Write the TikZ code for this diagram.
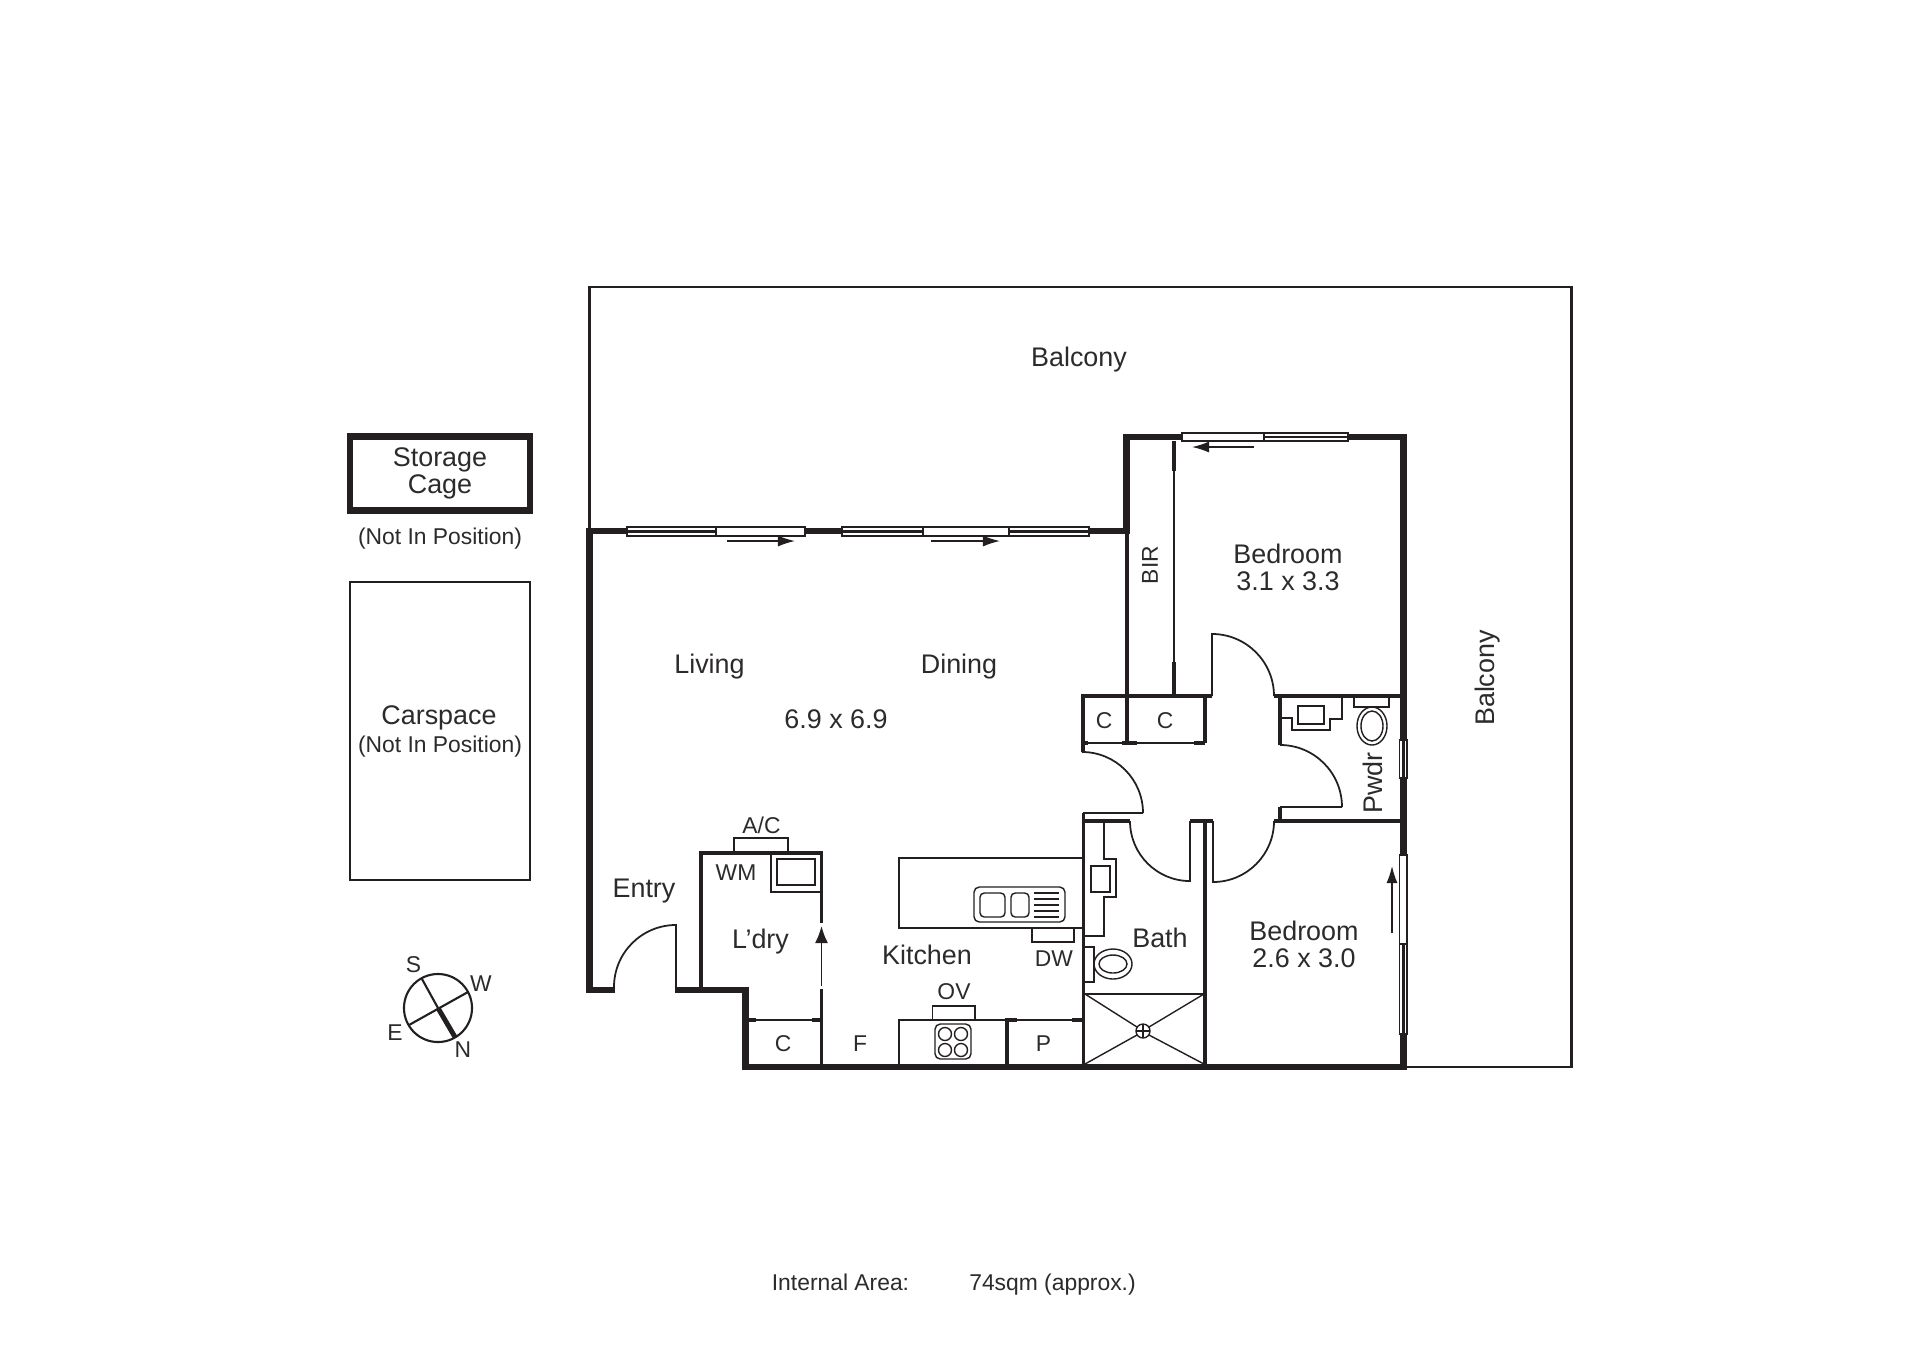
\documentclass[tikz,border=0pt]{standalone}
\usepackage{fontspec}
\setmainfont{Liberation Sans}
\usetikzlibrary{arrows.meta}
\definecolor{wallblack}{RGB}{35,31,32}
\definecolor{textblack}{RGB}{45,42,43}
\tikzset{
    wall/.style={draw=wallblack,line width=1.85pt},
    midwall/.style={draw=wallblack,line width=1pt},
    leaf/.style={draw=wallblack,line width=0.5pt},
    fitting/.style={draw=wallblack,line width=0.4pt},
    glass/.style={draw=wallblack,fill=white,line width=0.4pt},
    slide/.style={draw=wallblack,line width=0.4pt,-{Latex[length=0.17cm,width=0.11cm]}},
    bigtxt/.style={text=textblack,inner sep=0pt,font=\fontsize{7.65pt}{8pt}\selectfont},
    smalltxt/.style={text=textblack,inner sep=0pt,font=\fontsize{6.5pt}{7pt}\selectfont}
}
\begin{document}
\begin{tikzpicture}[x=0.01cm,y=-0.01cm]
  \useasboundingbox (0,0) rectangle (1920,1356);
  %balcony outline
      \draw[fitting,line width=0.6pt] (589.5,531) -- (589.5,287) -- (1571.5,287) -- (1571.5,1067) -- (1407,1067);
  %outer walls
      \draw[wall] (615,990) -- (589.5,990) -- (589.5,531) -- (1127,531);
      \draw[wall] (1126.5,534) -- (1126.5,437) -- (1403.5,437) -- (1403.5,1067) -- (745.5,1067) -- (745.5,990) -- (675,990);
  %inner walls
      \draw[midwall] (701,990) -- (701,853) -- (821.5,853) -- (821.5,923);
      \draw[midwall] (821.5,989) -- (821.5,1067);
      \draw[midwall] (1007,1067) -- (1007,1020) -- (1017,1020);
      \draw[midwall] (1083.5,1067) -- (1083.5,813);
      \draw[midwall] (1083.5,821) -- (1130,821);
      \draw[midwall] (1190,821) -- (1213,821);
      \draw[midwall] (1205,821) -- (1205,1067);
      \draw[midwall] (1274,821) -- (1403,821);
      \draw[midwall] (1280,821) -- (1280,807);
      \draw[midwall] (1083,752) -- (1083,696) -- (1212,696);
      \draw[midwall] (1274,696) -- (1403,696);
      \draw[midwall] (1280,696) -- (1280,745);
      \draw[midwall] (1127,534) -- (1127,743);
      \draw[midwall] (1205,696) -- (1205,743);
      \draw[midwall] (1174,441) -- (1174,471);
      \draw[midwall] (1174,662) -- (1174,696);
  %cupboard stubs
      \draw[midwall] (749,1020) -- (756,1020);
      \draw[midwall] (812,1020) -- (820,1020);
      \draw[midwall] (1072,1020) -- (1082,1020);
      \draw[midwall] (1083,743) -- (1088,743);
      \draw[midwall] (1122,743) -- (1137,743);
      \draw[midwall] (1194,743) -- (1205,743);
  %thin partitions
      \draw[fitting] (1174,471) -- (1174,662);
      \draw[fitting] (1083,743) -- (1205,743);
      \draw[fitting] (749,1020) -- (820,1020);
      \draw[fitting] (1007,1020) -- (1082,1020);
  %doors
      \draw[leaf] (614,990) -- (614,987) arc[start angle=180,end angle=90,radius=0.62cm] -- (676,990);
      \draw[leaf] (1143,813) arc[start angle=0,end angle=90,radius=0.61cm];
      \draw[leaf] (1083,813) -- (1143,813);
      \draw[leaf] (1130,821) arc[start angle=180,end angle=270,radius=0.60cm] -- (1190,821);
      \draw[leaf] (1213,821) -- (1213,882) arc[start angle=270,end angle=360,radius=0.61cm];
      \draw[leaf] (1342,807) arc[start angle=0,end angle=90,radius=0.62cm];
      \draw[leaf] (1280,807) -- (1342,807);
      \draw[leaf] (1274,696) arc[start angle=0,end angle=90,radius=0.62cm] -- (1212,696);
  %sliding door laundry
      \draw[slide,line width=0.5pt,-{Latex[length=0.17cm,width=0.13cm]}] (821.5,986) -- (821.5,926);
  %windows
      \foreach \xa/\xb in {627/716,842/923,1009/1089}
        {\draw[glass] (\xa,527) rectangle (\xb,536);
         \draw[fitting,line width=0.7pt] (\xa,531.5) -- (\xb,531.5);}
      \draw[glass] (716,527) rectangle (805,536);
      \draw[glass] (923,527) rectangle (1009,536);
      \draw[glass] (1182,433) rectangle (1264,441);
      \draw[glass] (1264,433) rectangle (1348,441);
      \draw[fitting,line width=0.7pt] (1264,437) -- (1348,437);
      \draw[glass] (1399.5,740) rectangle (1407,778);
      \draw[fitting,line width=0.7pt] (1403.5,740) -- (1403.5,778);
      \draw[glass] (1399.5,855) rectangle (1407,944);
      \draw[glass] (1399.5,944) rectangle (1407,1034);
      \draw[fitting,line width=0.7pt] (1403.5,944) -- (1403.5,1034);
      \draw[slide] (727,541) -- (795,541);
      \draw[slide] (931,541) -- (1000,541);
      \draw[slide] (1254,447) -- (1192,447);
      \draw[slide] (1392,933) -- (1392,866);
  %laundry fittings
      \draw[fitting] (734,851) -- (734,838) -- (788,838) -- (788,851);
      \draw[fitting] (771,855) -- (771,892) -- (820,892);
      \draw[fitting] (777,859) rectangle (815,885);
  %kitchen
      \draw[fitting] (1082,858) -- (899,858) -- (899,928) -- (1082,928);
      \draw[fitting,rounded corners=1.5pt] (974,887) rectangle (1065,922);
      \draw[fitting,rounded corners=1.2pt] (980,893) rectangle (1005,917);
      \draw[fitting,rounded corners=1.2pt] (1011,893) rectangle (1029,917);
      \foreach \yl in {893,899,905,911,917}
        \draw[fitting] (1034,\yl) -- (1059,\yl);
      \draw[fitting] (1032,928) -- (1032,942) -- (1074,942) -- (1074,928);
      \draw[fitting] (1007,1020) -- (899,1020) -- (899,1064);
      \draw[fitting] (932.5,1020) -- (932.5,1006) -- (975,1006) -- (975,1020);
      \draw[fitting,rounded corners=1.5pt] (935,1024) rectangle (971,1059);
      \foreach \xh in {945,961}
        \foreach \yh in {1034,1050}
          \draw[fitting] (\xh,\yh) circle[radius=0.065cm];
  %bath fittings
      \draw[fitting] (1104,821) -- (1104,859) -- (1116,859) -- (1116,897) -- (1104,897) -- (1104,936) -- (1085,936);
      \draw[fitting] (1091,866) rectangle (1110,892);
      \draw[fitting] (1085,947) -- (1094,947) -- (1094,982) -- (1085,982);
      \draw[fitting] (1113,964) ellipse[x radius=0.19cm,y radius=0.15cm];
      \draw[fitting] (1113,964) ellipse[x radius=0.14cm,y radius=0.09cm];
      \draw[fitting] (1085,994) -- (1204,994);
      \draw[fitting] (1085,994) -- (1137,1027);
      \draw[fitting] (1204,994) -- (1149,1027);
      \draw[fitting] (1085,1064) -- (1137,1035);
      \draw[fitting] (1204,1064) -- (1149,1035);
      \draw[fitting] (1143,1031) circle[radius=0.07cm];
      \draw[fitting] (1136,1031) -- (1150,1031) (1143,1024) -- (1143,1038);
  %powder fittings
      \draw[fitting] (1281,718) -- (1292,718) -- (1292,730) -- (1330,730) -- (1330,719) -- (1342,719) -- (1342,697);
      \draw[fitting] (1298,706) rectangle (1324,724);
      \draw[fitting] (1354,697) -- (1354,707) -- (1389,707) -- (1389,697);
      \draw[fitting] (1372,726) ellipse[x radius=0.15cm,y radius=0.19cm];
      \draw[fitting] (1372,726) ellipse[x radius=0.11cm,y radius=0.15cm];
  %storage and carspace
      \draw[wall] (350,436.5) rectangle (530,510.5);
      \draw[fitting,line width=0.5pt] (350,582) rectangle (530,880);
  %compass
      \draw[fitting,line width=0.6pt] (438,1008) circle[radius=0.34cm];
      \draw[fitting,line width=0.6pt] (422,979) -- (438,1008);
      \draw[fitting,line width=1.4pt] (438,1008) -- (455,1037);
      \draw[fitting,line width=0.6pt] (409,1025) -- (468,992);
  %labels
      \node[bigtxt] (balconytop) at (1079,359.5) {Balcony};
      \node[bigtxt,rotate=90] (balconyside) at (1488,678) {Balcony};
      \node[bigtxt] (storage) at (440,460) {Storage};
      \node[bigtxt] (cage) at (440,487) {Cage};
      \node[smalltxt] (storagenote) at (440,538.5) {(Not In Position)};
      \node[bigtxt] (carspace) at (439,718) {Carspace};
      \node[smalltxt] (carnote) at (440,746.5) {(Not In Position)};
      \node[bigtxt] (living) at (709.5,667) {Living};
      \node[bigtxt] (dining) at (959,667) {Dining};
      \node[bigtxt] (livingsize) at (836,719) {6.9 x 6.9};
      \node[bigtxt] (bedone) at (1288,554) {Bedroom};
      \node[bigtxt] (bedonesize) at (1288,581) {3.1 x 3.3};
      \node[bigtxt] (bedtwo) at (1304,931) {Bedroom};
      \node[bigtxt] (bedtwosize) at (1304,958) {2.6 x 3.0};
      \node[bigtxt] (bath) at (1160,938) {Bath};
      \node[bigtxt,rotate=90] (pwdr) at (1373,783) {Pwdr};
      \node[smalltxt,rotate=90] (bir) at (1150,565) {BIR};
      \node[smalltxt] (cone) at (1104,721) {C};
      \node[smalltxt] (ctwo) at (1165,721) {C};
      \node[bigtxt] (entry) at (644,891) {Entry};
      \node[bigtxt] (ldry) at (760.5,941.5) {L’dry};
      \node[bigtxt] (kitchen) at (927,955) {Kitchen};
      \node[smalltxt] (ac) at (761.5,825) {A/C};
      \node[smalltxt] (wm) at (736,873) {WM};
      \node[smalltxt] (dw) at (1054,959) {DW};
      \node[smalltxt] (ov) at (954,992) {OV};
      \node[smalltxt] (cthree) at (783,1044) {C};
      \node[smalltxt] (fridge) at (860,1044) {F};
      \node[smalltxt] (pantry) at (1043.5,1044) {P};
      \node[smalltxt] (south) at (413.5,965) {S};
      \node[smalltxt] (west) at (481,983.5) {W};
      \node[smalltxt] (east) at (395,1033) {E};
      \node[smalltxt] (north) at (463,1050) {N};
      \node[smalltxt] (arealabel) at (840.5,1282.5) {Internal Area:};
      \node[smalltxt] (areavalue) at (1052.5,1285) {74sqm (approx.)};
\end{tikzpicture}
\end{document}
